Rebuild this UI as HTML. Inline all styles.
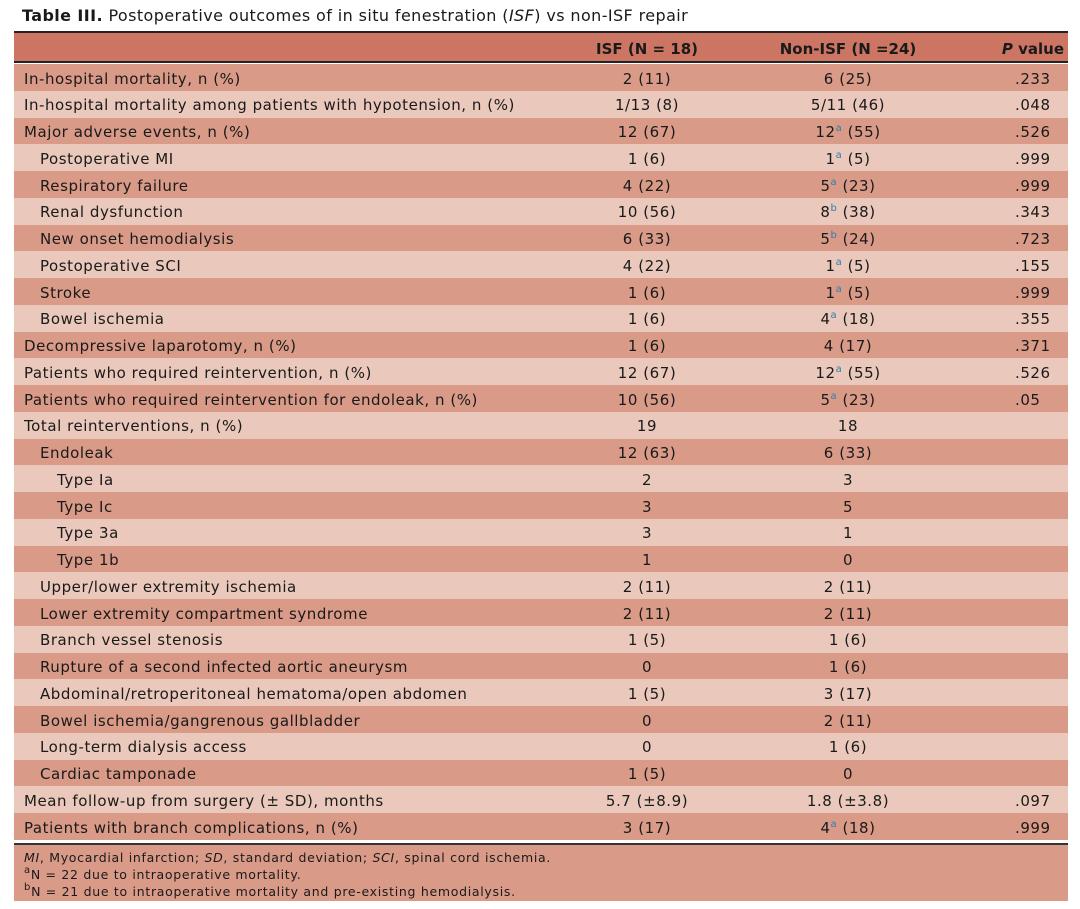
<!DOCTYPE html>
<html><head><meta charset="utf-8">
<style>
*{margin:0;padding:0;box-sizing:border-box}
body{width:1080px;height:909px;background:#fff;font-family:"DejaVu Sans","Liberation Sans",sans-serif;color:#1a1a1a;position:relative;overflow:hidden}
#title{position:absolute;left:22px;top:6px;font-size:16px;letter-spacing:0.4px;white-space:nowrap}
#tbl{position:absolute;left:14px;top:31px;width:1054px}
.hdr{position:absolute;left:0;top:0;width:1054px;height:32px;background:#cb7562;border-top:2px solid #222;border-bottom:2px solid #222;font-weight:bold;font-size:15px}
.row{position:absolute;left:0;width:1054px;height:26.75px;font-size:15px;line-height:26.75px;letter-spacing:0.55px}
.d{background:#d99a88}.l{background:#eac8bb}
.c{position:absolute;top:1.5px;white-space:nowrap}
.c1{left:533px;width:200px;text-align:center}
.c2{left:734px;width:200px;text-align:center}
.c3{left:1001px}
sup{color:#2a7fb0;font-size:10px;vertical-align:6px;line-height:0}
.foot{position:absolute;left:0;top:812px;width:1054px;height:58px;background:#d99a88;border-top:2px solid #333;font-size:12.5px;line-height:17px;padding:4px 10px;letter-spacing:0.7px}
.foot sup{color:#1a1a1a}
</style></head><body>
<div id="title"><b>Table III.</b> Postoperative outcomes of in situ fenestration (<i>ISF</i>) vs non-ISF repair</div>
<div id="tbl">
<div class="hdr">
<span class="c c1" style="line-height:28px">ISF (N = 18)</span>
<span class="c c2" style="line-height:28px">Non-ISF (N =24)</span>
<span class="c" style="right:4px;line-height:28px"><i>P</i> value</span>
</div>
<div id="body"></div>
<div class="foot">
<div><i>MI</i>, Myocardial infarction; <i>SD</i>, standard deviation; <i>SCI</i>, spinal cord ischemia.</div>
<div><sup>a</sup>N = 22 due to intraoperative mortality.</div>
<div><sup>b</sup>N = 21 due to intraoperative mortality and pre-existing hemodialysis.</div>
</div>
</div>
<script>
const rowLabels=["In-hospital mortality, n (%)","In-hospital mortality among patients with hypotension, n (%)","Major adverse events, n (%)","Postoperative MI","Respiratory failure","Renal dysfunction","New onset hemodialysis","Postoperative SCI","Stroke","Bowel ischemia","Decompressive laparotomy, n (%)","Patients who required reintervention, n (%)","Patients who required reintervention for endoleak, n (%)","Total reinterventions, n (%)","Endoleak","Type Ia","Type Ic","Type 3a","Type 1b","Upper/lower extremity ischemia","Lower extremity compartment syndrome","Branch vessel stenosis","Rupture of a second infected aortic aneurysm","Abdominal/retroperitoneal hematoma/open abdomen","Bowel ischemia/gangrenous gallbladder","Long-term dialysis access","Cardiac tamponade","Mean follow-up from surgery (± SD), months","Patients with branch complications, n (%)"];
const indentLevels=[0,0,0,1,1,1,1,1,1,1,0,0,0,0,1,2,2,2,2,1,1,1,1,1,1,1,1,0,0];
const isfValues=["2 (11)","1/13 (8)","12 (67)","1 (6)","4 (22)","10 (56)","6 (33)","4 (22)","1 (6)","1 (6)","1 (6)","12 (67)","10 (56)","19","12 (63)","2","3","3","1","2 (11)","2 (11)","1 (5)","0","1 (5)","0","0","1 (5)","5.7 (±8.9)","3 (17)"];
const nonIsfValues=["6 (25)","5/11 (46)","12^a (55)","1^a (5)","5^a (23)","8^b (38)","5^b (24)","1^a (5)","1^a (5)","4^a (18)","4 (17)","12^a (55)","5^a (23)","18","6 (33)","3","5","1","0","2 (11)","2 (11)","1 (6)","1 (6)","3 (17)","2 (11)","1 (6)","0","1.8 (±3.8)","4^a (18)"];
const pValues=[".233",".048",".526",".999",".999",".343",".723",".155",".999",".355",".371",".526",".05","","","","","","","","","","","","","","",".097",".999"];
const body=document.getElementById('body');
const fmt=s=>s.replace(/\^([ab])/,'<sup>$1</sup>');
rowLabels.forEach((lab,i)=>{
  const r=document.createElement('div');
  r.className='row '+(i%2?'l':'d');
  r.style.top=(33+i*26.75)+'px';
  
  
  const ind=[10,26,43][indentLevels[i]];
  r.innerHTML=`<span class="c" style="left:${ind}px">${lab}</span><span class="c c1">${fmt(isfValues[i])}</span><span class="c c2">${fmt(nonIsfValues[i])}</span><span class="c c3">${pValues[i]}</span>`;
  body.appendChild(r);
});
</script>
</body></html>
